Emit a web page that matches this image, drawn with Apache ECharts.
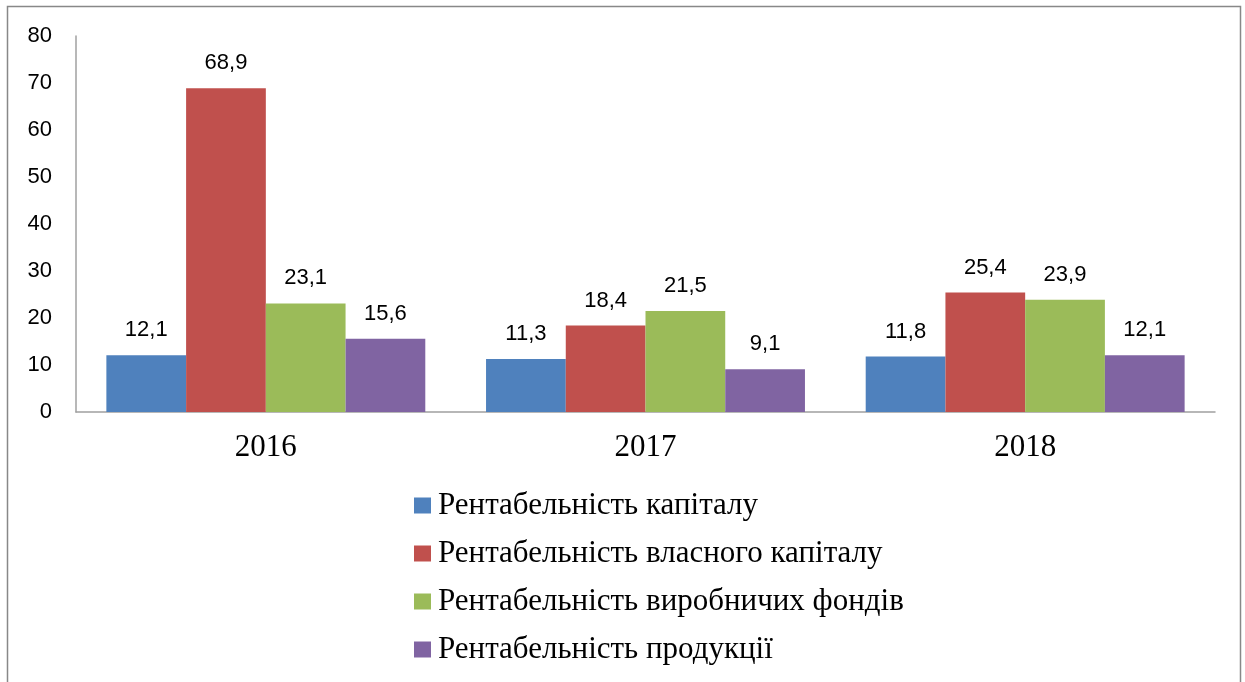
<!DOCTYPE html>
<html>
<head>
<meta charset="utf-8">
<script src="https://cdn.jsdelivr.net/npm/echarts@6/dist/echarts.min.js"></script>
<style>
html, body { margin: 0; padding: 0; background: #fff; }
#main { width: 1245px; height: 682px; }
</style>
</head>
<body>
<div id="main"></div>
<script>
// дані
var years = ['2016', '2017', '2018'];
var seriesNames = ['Рентабельність капіталу', 'Рентабельність власного капіталу', 'Рентабельність виробничих фондів', 'Рентабельність продукції'];
var rentKapitalu = [12.1, 11.3, 11.8];
var rentVlasnogo = [68.9, 18.4, 25.4];
var rentFondiv = [23.1, 21.5, 23.9];
var rentProduktsii = [15.6, 9.1, 12.1];
var colors = ['#4f81bd', '#c0504d', '#9bbb59', '#8064a2'];

var chart = echarts.init(document.getElementById('main'));

function barSeries(name, data) {
    return {
        name: name,
        type: 'bar',
        data: data,
        barGap: '0%',
        barCategoryGap: '16%',
        label: {
            show: true,
            position: 'top',
            distance: 14,
            color: '#000',
            fontFamily: 'Liberation Sans',
            fontSize: 22,
            formatter: function (p) { return String(p.value).replace('.', ','); }
        }
    };
}

var option = {
    backgroundColor: '#fff',
    animation: false,
    color: colors,
    graphic: [{
        type: 'rect',
        shape: { x: 7.5, y: 6.5, width: 1233, height: 700 },
        style: { fill: 'none', stroke: '#888', lineWidth: 1.5 }
    }],
    grid: { left: 76, right: 30, top: 36, bottom: 270, containLabel: false },
    legend: {
        orient: 'vertical',
        left: 409,
        top: 485,
        itemWidth: 17,
        itemHeight: 16,
        itemGap: 17,
        icon: 'rect',
        textStyle: { fontFamily: 'Liberation Serif', fontSize: 31, color: '#000', padding: [0, 0, 0, 2] },
        data: seriesNames
    },
    xAxis: {
        type: 'category',
        data: years,
        axisLine: { lineStyle: { color: '#a0a0a0', width: 1.5 } },
        axisTick: { show: false },
        axisLabel: { fontFamily: 'Liberation Serif', fontSize: 31, color: '#000', margin: 20 }
    },
    yAxis: {
        type: 'value',
        min: 0,
        max: 80,
        interval: 10,
        axisLine: { show: true, lineStyle: { color: '#a0a0a0', width: 1.5 } },
        axisTick: { show: false },
        splitLine: { show: false },
        axisLabel: { fontFamily: 'Liberation Sans', fontSize: 22, color: '#000', margin: 24 }
    },
    series: [
        barSeries(seriesNames[0], rentKapitalu),
        barSeries(seriesNames[1], rentVlasnogo),
        barSeries(seriesNames[2], rentFondiv),
        barSeries(seriesNames[3], rentProduktsii)
    ]
};

chart.setOption(option);
</script>
</body>
</html>
